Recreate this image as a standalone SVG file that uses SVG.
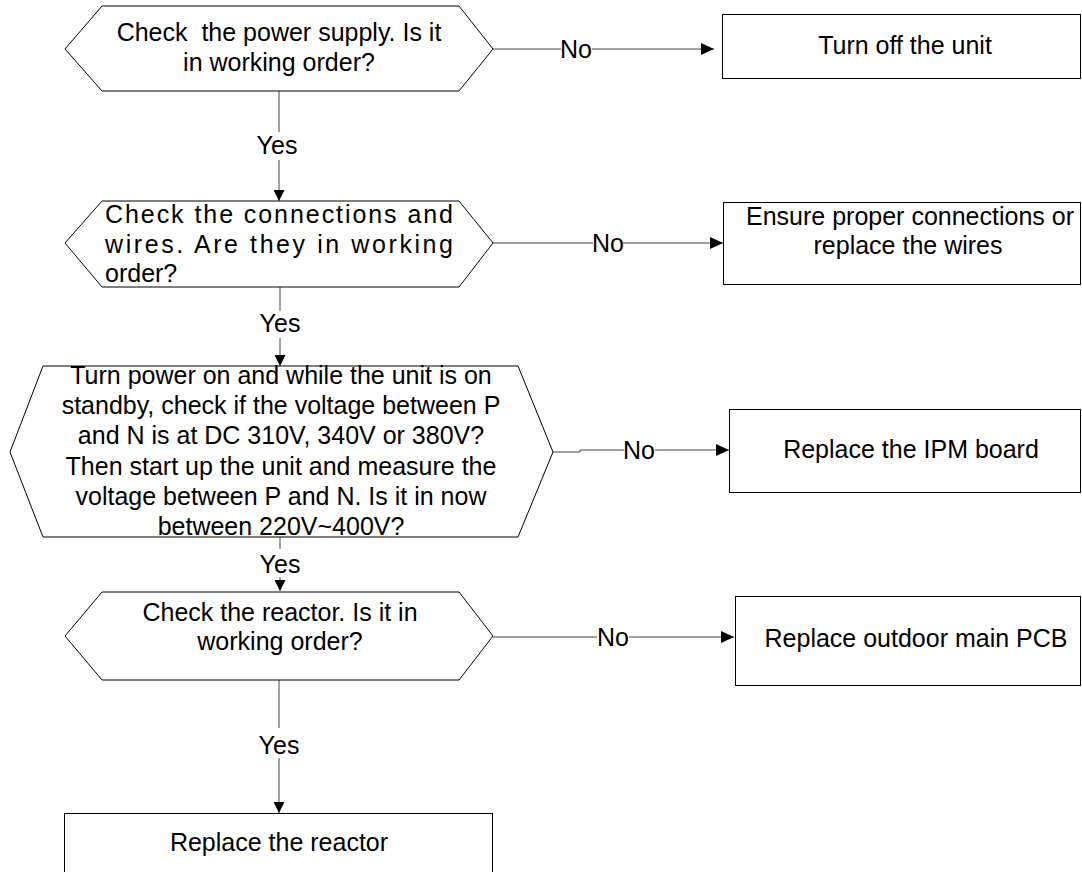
<svg xmlns="http://www.w3.org/2000/svg" width="1082" height="872" viewBox="0 0 1082 872">
<style>
.shape{fill:#fff;stroke:#000;stroke-width:1}
.t{font-family:"Liberation Sans",Arial,sans-serif;font-size:25px;fill:#000;white-space:pre}
.m{text-anchor:middle}
.c{fill:none;stroke:#444;stroke-width:1}
</style>
<defs>
<marker id="ah" viewBox="0 0 13 12" refX="13" refY="6" markerWidth="13" markerHeight="12" markerUnits="userSpaceOnUse" orient="auto">
<path d="M0,0 L13,6 L0,12 z" fill="#000"/>
</marker>
<marker id="av" viewBox="0 0 11 11" refX="11" refY="5.5" markerWidth="11" markerHeight="11" markerUnits="userSpaceOnUse" orient="auto">
<path d="M0,0 L11,5.5 L0,11 z" fill="#000"/>
</marker>
</defs>

<g id="connectors">
<line class="c" x1="493" y1="49" x2="561" y2="49"/>
<line class="c" x1="592" y1="49" x2="714" y2="49" marker-end="url(#ah)"/>
<text class="t m" x="576" y="58">No</text>

<line class="c" x1="493" y1="243" x2="593" y2="243"/>
<line class="c" x1="623" y1="243" x2="723" y2="243" marker-end="url(#ah)"/>
<text class="t m" x="608" y="252">No</text>

<polyline class="c" points="553,452 580,452 580,450 624,450"/>
<line class="c" x1="655" y1="450" x2="729" y2="450" marker-end="url(#ah)"/>
<text class="t m" x="639" y="459">No</text>

<line class="c" x1="493" y1="637" x2="597" y2="637"/>
<line class="c" x1="629" y1="637" x2="734" y2="637" marker-end="url(#ah)"/>
<text class="t m" x="613" y="646">No</text>

<line class="c" x1="279" y1="91" x2="279" y2="132"/>
<line class="c" x1="279" y1="160" x2="279" y2="201" marker-end="url(#av)"/>
<text class="t m" x="277" y="154">Yes</text>

<line class="c" x1="280" y1="287" x2="280" y2="311"/>
<line class="c" x1="280" y1="338" x2="280" y2="366" marker-end="url(#av)"/>
<text class="t m" x="280" y="332">Yes</text>

<line class="c" x1="280" y1="537" x2="280" y2="549"/>
<line class="c" x1="280" y1="577" x2="280" y2="591" marker-end="url(#av)"/>
<text class="t m" x="280" y="573">Yes</text>

<line class="c" x1="279" y1="677" x2="279" y2="728"/>
<line class="c" x1="279" y1="758" x2="279" y2="813" marker-end="url(#av)"/>
<text class="t m" x="279" y="754">Yes</text>
</g>

<g id="q1">
<polygon class="shape" points="65,49 102,6 459,6 493,49 459,91 102,91"/>
<text class="t m" x="279" y="41">Check  the power supply. Is it</text>
<text class="t m" x="279" y="71">in working order?</text>
</g>

<g id="a1">
<rect class="shape" x="722.5" y="14.5" width="358" height="64"/>
<text class="t m" x="905" y="54">Turn off the unit</text>
</g>

<g id="q2">
<polygon class="shape" points="65,243 102,201 459,201 493,243 459,287 102,287"/>
<text class="t" x="105" y="223" textLength="348" lengthAdjust="spacing">Check the connections and</text>
<text class="t" x="105" y="253" textLength="348" lengthAdjust="spacing">wires. Are they in working</text>
<text class="t" x="105" y="282">order?</text>
</g>

<g id="a2">
<rect class="shape" x="723.5" y="202.5" width="357" height="82"/>
<text class="t m" x="910" y="225">Ensure proper connections or</text>
<text class="t m" x="908" y="254">replace the wires</text>
</g>

<g id="q3">
<polygon class="shape" points="10,452 43,366 518,366 553,452 518,537 43,537"/>
<text class="t m" x="281" y="384">Turn power on and while the unit is on</text>
<text class="t m" x="281" y="414">standby, check if the voltage between P</text>
<text class="t m" x="281" y="444">and N is at DC 310V, 340V or 380V?</text>
<text class="t m" x="281" y="475">Then start up the unit and measure the</text>
<text class="t m" x="281" y="505">voltage between P and N. Is it in now</text>
<text class="t m" x="281" y="535">between 220V~400V?</text>
</g>

<g id="a3">
<rect class="shape" x="729.5" y="409.5" width="351" height="83"/>
<text class="t m" x="911" y="458">Replace the IPM board</text>
</g>

<g id="q4">
<polygon class="shape" points="65,636 102,592 459,592 493,636 459,680 102,680"/>
<text class="t m" x="280" y="621">Check the reactor. Is it in</text>
<text class="t m" x="280" y="650">working order?</text>
</g>

<g id="a4">
<rect class="shape" x="735.5" y="596.5" width="345" height="89"/>
<text class="t m" x="916" y="647">Replace outdoor main PCB</text>
</g>

<g id="a5">
<rect class="shape" x="64.5" y="813.5" width="428" height="70"/>
<text class="t m" x="279" y="851">Replace the reactor</text>
</g>
</svg>
